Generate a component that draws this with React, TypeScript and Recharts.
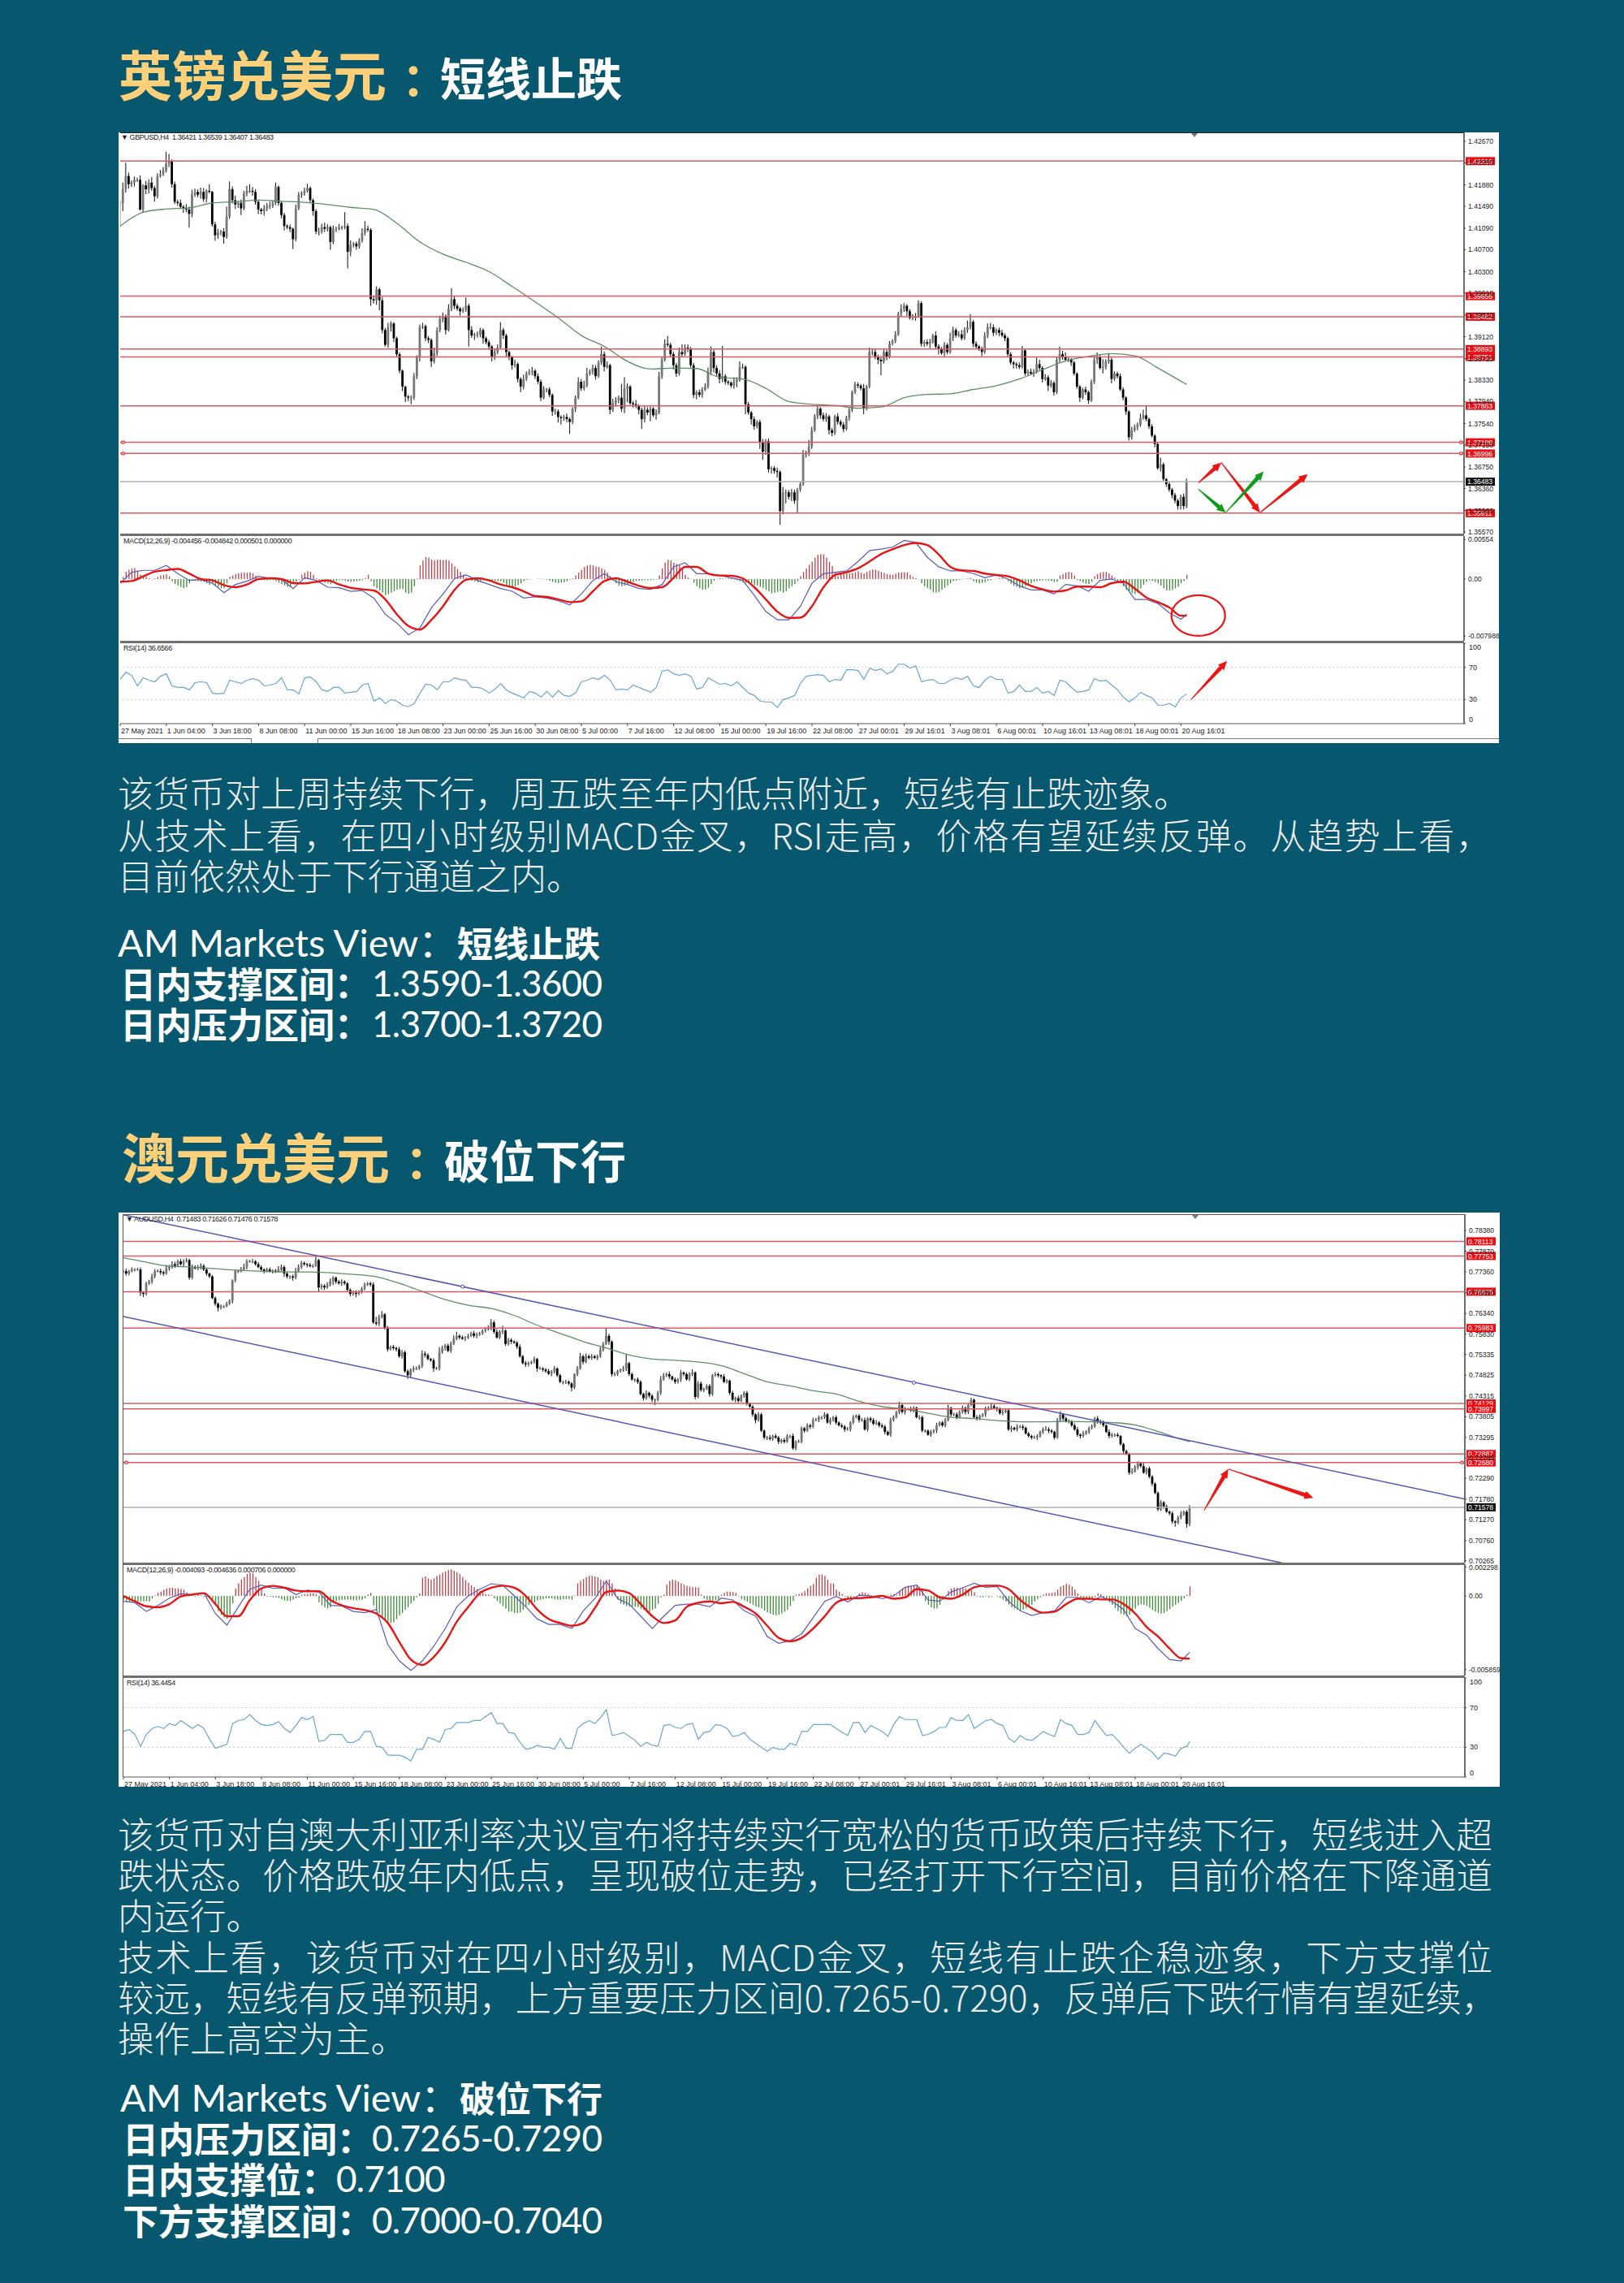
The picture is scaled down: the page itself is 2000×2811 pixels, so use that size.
import { Bar, ComposedChart, Line, ReferenceDot, ReferenceLine, XAxis, YAxis } from 'recharts';

// prices are kept in pips above a base price, the wicks in pips beyond the candle body
const gbpBase = 1.35;
const gbpClose = [
  655,680,704,689,692,697,697,643,687,680, 692,682,667,704,707,714,726,731,689,657,
  655,648,645,643,635,670,675,670,675,662, 677,675,616,596,601,603,593,630,680,660,
  652,655,645,672,677,677,675,657,643,640, 645,650,650,655,684,655,633,613,611,608,
  589,645,670,672,677,682,660,640,603,603, 611,608,611,584,608,608,611,611,613,566,
  579,581,576,586,601,608,606,480,478,498, 478,424,397,429,436,409,380,350,321,303,
  301,301,340,375,429,431,409,406,367,382, 424,444,449,424,463,480,468,463,458,461,
  468,424,414,416,416,424,409,402,394,375, 384,392,424,414,384,375,360,362,335,321,
  335,345,348,350,340,330,301,316,316,306, 276,276,266,264,266,262,257,281,301,330,
  318,323,345,348,355,340,365,380,357,360, 279,291,296,301,281,318,321,291,289,286,
  279,262,279,274,281,269,274,340,370,399, 397,380,360,345,384,380,392,390,360,306,
  311,306,316,321,348,384,355,345,335,340, 330,328,323,330,333,357,357,289,274,262,
  249,257,220,203,222,171,173,168,166,95, 129,129,121,129,114,134,144,198,200,212,
  242,267,281,269,262,267,242,237,267,257, 252,244,264,279,311,325,323,318,281,321,
  384,384,375,370,367,384,375,399,404,416, 453,463,468,458,446,446,449,473,399,402,
  399,402,414,394,390,382,397,384,409,424, 414,416,409,424,429,439,399,394,390,384,
  414,429,429,419,424,419,414,409,380,365, 362,360,357,387,345,348,345,348,362,355,
  335,338,323,328,311,370,380,375,370,370, 365,345,321,301,316,311,296,330,370,375,
  355,357,367,370,335,345,340,316,301,276, 229,242,247,252,264,269,262,249,232,217,
  173,180,153,144,134,124,114,104,121,104, 148,
];
const gbpWickUp = [
  5,12,24,6,4,6,4,8,2,8, 6,10,4,5,8,6,22,13,3,5, 4,6,3,8,5,9,6,5,8,7, 3,12,2,5,7,3,6,18,14,5,
  8,4,6,5,9,12,7,5,4,3, 6,5,7,4,8,3,3,4,3,5, 2,7,5,4,6,8,3,3,4,7, 6,8,5,3,6,4,6,3,25,5,
  8,3,4,5,8,14,6,3,5,5, 3,6,4,8,4,2,3,3,2,2, 3,4,6,3,5,6,3,4,3,10, 5,6,7,3,8,20,6,4,3,4,
  15,4,7,3,5,4,3,3,4,3, 5,6,14,4,3,3,2,8,3,3, 8,4,5,7,3,5,4,6,3,4, 3,5,4,3,4,6,3,3,4,8,
  5,9,10,4,6,5,4,14,5,7, 3,8,6,4,25,20,6,3,4,8, 3,4,7,5,4,3,6,8,5,8, 14,4,5,4,8,14,6,6,3,4,
  3,5,4,6,8,10,4,5,6,55, 4,3,3,8,5,10,6,3,4,3, 5,3,4,6,4,5,3,4,6,3, 10,5,4,6,5,3,4,8,5,12,
  6,4,7,3,5,6,3,4,3,6, 4,5,4,3,3,5,4,3,8,3, 8,5,6,4,6,5,4,5,3,6, 4,8,5,3,4,7,6,5,3,4,
  5,6,3,8,4,3,5,3,10,6, 4,6,8,5,12,14,3,5,3,4, 6,7,8,5,3,4,5,4,3,4, 3,4,5,8,3,4,6,5,12,8,
  3,6,4,5,3,5,14,6,8,4, 3,3,2,3,3,5,3,4,6,8, 5,14,4,12,4,4,3,5,4,3, 2,6,5,4,8,10,18,3,4,3,
  3,12,3,2,4,3,4,3,4,6, 6,
];
const gbpWickDown = [
  45,15,6,8,5,7,4,2,6,9, 8,5,10,4,3,3,4,6,6,4, 5,4,8,5,25,6,4,5,7,5, 6,2,4,10,6,5,12,3,4,6,
  8,6,12,3,5,4,7,5,8,6, 8,5,6,4,4,5,6,8,4,6, 18,4,3,6,4,3,5,8,5,7, 4,6,5,14,4,6,3,5,4,30,
  8,5,6,4,3,5,4,12,6,8, 18,6,3,5,8,7,6,5,8,10, 6,12,4,5,8,3,5,6,10,4, 5,4,6,8,3,5,6,4,8,3,
  4,30,4,8,6,5,10,4,6,8, 5,4,3,6,8,6,8,4,6,10, 5,4,3,6,5,4,6,3,5,4, 8,6,10,12,5,6,22,4,6,3,
  5,4,3,4,5,6,3,4,8,3, 8,4,6,5,6,8,25,3,6,4, 8,18,6,5,16,3,8,3,5,3, 4,5,8,6,4,5,3,6,4,6,
  8,4,5,3,4,6,8,5,8,6, 5,4,4,6,10,3,4,18,4,10, 6,4,12,15,6,6,8,5,10,25, 6,20,5,8,6,22,4,3,6,5,
  4,3,5,6,4,5,8,6,4,5, 4,6,3,5,4,3,5,4,10,3, 3,6,4,8,25,4,6,3,3,4, 3,5,6,8,3,4,5,3,5,6,
  4,8,3,5,10,3,6,4,3,5, 4,3,4,3,5,4,6,5,4,8, 3,5,4,6,4,6,3,5,5,4, 8,6,4,3,4,5,3,6,3,4,
  6,3,10,4,6,3,4,5,3,4, 6,4,4,8,3,5,6,3,4,8, 3,10,5,4,8,3,4,3,5,6, 6,4,3,5,4,3,4,5,3,6,
  3,6,3,5,4,6,5,6,6,6, 4,
];
// moving average, one reading every 8 bars plus the last bar
const gbpMa = [
  613,638,644,646,655,657,660,658,656,652,647,643,618,584,562,547,530,503,475,446,414,394,367,353,
  355,354,338,335,318,294,289,287,282,284,301,307,308,316,323,335,352,368,376,381,377,355,331,325,
];
// MACD in 0.00001 units: histogram per bar, the two lines one reading every 4 bars plus the last bar
const gbpHist = [
  0,30,100,130,150,155,120,60,30,30, 10,-5,10,30,50,60,70,40,-30,-70,
  -90,-110,-125,-110,-60,-20,-25,-30,-35,-40, -60,-80,-70,-90,-110,-130,-130,-60,30,50,
  70,80,85,90,90,95,80,50,10,-10, -15,-20,-15,-15,-30,-50,-70,-90,-110,-110,
  -60,-40,-10,60,90,110,100,60,10,-15, -30,-50,-60,-70,-40,-30,-15,-15,-25,-35,
  -40,-35,-30,-25,-15,15,60,-30,-100,-130, -160,-190,-225,-210,-190,-170,-150,-140,-140,-190,
  -205,-190,-100,10,190,260,310,300,270,260, 270,270,265,270,260,220,180,140,100,60,
  20,-10,-25,-35,-45,-40,-20,-15,-20,-20, -25,-30,-30,-50,-80,-100,-110,-100,-85,-60,
  -30,-10,-5,0,0,5,5,-5,-10,-25, -40,-50,-55,-50,-45,-30,-10,10,50,90,
  130,170,190,200,195,175,170,150,130,90, 40,-20,-60,-90,-100,-90,-70,-50,-40,-25,
  -25,-20,-15,-15,-15,-10,-5,50,150,230, 270,260,230,210,190,150,60,20,5,-50,
  -100,-130,-150,-145,-120,-70,-25,-5,15,10, 5,10,15,-5,-15,-30,-50,-50,-50,-60,
  -80,-90,-110,-130,-150,-170,-200,-190,-180,-170, -190,-170,-130,-100,-70,-30,40,100,150,200,
  245,300,340,350,345,300,240,180,100,40, 70,75,80,80,85,95,110,90,80,100,
  120,135,130,115,100,85,70,65,60,75, 90,95,95,90,60,30,15,-5,-60,-100,
  -125,-150,-185,-190,-180,-150,-120,-90,-60,-30, -20,-10,-5,5,10,15,-30,-50,-60,-55,
  -45,-25,-15,-5,5,15,15,5,-30,-70, -95,-110,-130,-120,-100,-80,-60,-40,-30,-25,
  -20,-15,-20,-30,-40,-40,50,70,90,100, 90,50,-15,-30,-50,-65,-70,-40,40,70,
  90,100,100,80,50,20,-20,-60,-100,-150, -170,-200,-210,-190,-130,-80,-40,-15,-25,-40,
  -60,-90,-130,-160,-160,-155,-130,-110,-60,-30, 60,
];
const gbpMacd = [
  -57,95,122,122,190,76,-19,-8,-57,-190,-76,-30,38,11,-8,-133,19,-19,-114,-122,-171,-160,-266,-494,
  -616,-779,-684,-399,-209,8,57,-19,-76,-133,-171,-266,-247,-266,-304,-361,-209,-19,76,-38,-76,-133,
  -144,-76,171,228,76,76,49,19,-19,-228,-456,-570,-570,-380,-57,76,95,114,247,399,418,448,540,513,
  304,171,114,114,76,19,57,0,-95,-152,-152,-209,-76,-95,-171,-19,0,-57,-285,-285,-342,-475,-562,-494,
];
const gbpSignal = [
  -38,-27,38,103,125,141,76,0,-19,-84,-114,-76,0,11,0,-57,-61,-38,-19,-76,-122,-144,-160,-285,-494,
  -657,-707,-570,-380,-152,-11,11,-19,-76,-114,-171,-239,-251,-285,-323,-312,-171,-27,11,-38,-95,
  -125,-114,19,171,171,76,49,46,8,-114,-285,-456,-543,-540,-380,-114,57,95,152,247,350,418,475,505,
  475,342,171,122,114,76,57,38,-19,-95,-144,-175,-160,-106,-106,-114,-57,-38,-133,-258,-323,-399,-513,-510,
];
// RSI, one reading every 2 bars
const gbpRsi = [
  55,64,60,47,57,54,52,59,62,47, 45,45,42,51,52,51,38,37,38,54, 52,50,54,56,54,47,48,50,57,42,
  42,37,57,58,52,42,40,45,45,38, 39,40,48,50,28,32,25,30,28,23, 21,25,38,49,48,42,52,52,57,55,
  54,45,45,43,38,43,50,42,38,35, 32,40,38,33,40,33,41,35,34,38, 52,54,57,55,60,54,42,43,42,48,
  45,42,39,45,65,67,62,60,62,59, 43,45,57,53,49,50,47,52,45,38, 35,28,27,27,20,30,32,35,50,59,
  60,61,60,52,55,54,
  67,67,66,55,69,66,68,62,65,74, 74,69,72,52,54,55,50,50,54,57, 55,59,47,45,54,59,55,55,38,40,
  48,40,40,45,38,40,35,54,52,45, 39,40,42,56,53,54,48,42,33,27, 32,39,35,32,23,23,25,21,32,37,
];
const gbpLevels = [1.4231, 1.39856, 1.39482, 1.38893, 1.38751, 1.37863, 1.37199, 1.36996, 1.35911];
const gbpPriceTicks = [
  1.4267,1.4228,1.4188,1.4149,1.4109,1.407,1.403,1.3991,1.3951,1.3912,1.3872,1.3833,1.3794,1.3754,1.3715,1.3675,1.3636,1.3596,1.3557,
];
const gbpAnchors = [1.37199, 1.36996];
const gbpRedArrows = [
  [374, 1.3646, 382, 1.3683],
  [382, 1.3683, 395.4, 1.3592],
  [395.4, 1.3592, 412, 1.3662],
];
const gbpGreenArrows = [
  [374, 1.3635, 383.5, 1.3592],
  [383.5, 1.3592, 396.7, 1.3667],
];
const gbpRsiArrow = [371.5, 30, 384, 78];
const gbpCircle = [374, -0.0051];

const audBase = 0.7;
const audClose = [
  738,732,738,742,742,742,685,682,708,712, 725,738,738,735,732,745,748,755,751,762,
  755,762,765,722,748,745,748,751,742,732, 725,672,658,648,652,652,658,665,715,738,
  738,742,748,762,762,762,755,748,742,738, 742,738,739,738,742,748,732,725,725,722,
  738,748,758,755,753,750,751,765,698,702, 698,705,712,722,712,708,712,708,692,682,
  685,682,688,695,705,708,705,612,609,625, 632,599,546,552,549,546,529,539,492,482,
  496,499,499,505,535,532,522,519,499,499, 539,549,555,542,559,572,579,575,572,575,
  579,585,579,582,585,592,595,599,612,589, 575,589,592,559,569,565,562,552,529,512,
  509,512,515,522,499,499,496,492,486,492, 499,482,466,466,466,462,452,485,499,529,
  515,529,525,529,525,529,545,559,579,565, 485,485,492,496,499,512,485,472,472,466,
  436,426,439,432,422,422,439,472,482,485, 479,472,466,472,489,485,472,485,489,429,
  462,446,449,456,436,482,485,482,479,466, 469,439,422,426,419,432,439,412,405,386,
  372,386,346,329,329,326,333,329,319,323, 319,333,333,303,319,319,352,346,359,356,
  372,372,379,379,386,366,372,379,366,359, 356,349,349,366,379,383,372,372,349,376,
  372,363,366,359,356,343,336,372,379,392, 409,392,399,399,396,402,379,379,346,346,
  336,343,346,359,366,359,372,402,386,386, 379,392,402,392,409,422,379,376,382,386,
  399,402,406,402,399,389,392,396,349,353, 349,356,356,353,339,333,329,329,333,343,
  349,349,346,343,329,372,386,376,369,369, 359,349,336,333,339,343,353,356,376,369,
  366,359,343,333,336,336,333,313,296,289, 243,246,256,266,259,243,253,233,216,193,
  153,170,160,147,143,123,120,133,140,147, 117,158,
];
const audWickUp = [
  4,6,3,5,3,4,5,3,4,5, 6,5,4,6,4,8,5,7,6,4, 6,5,5,3,6,4,5,6,4,3, 2,3,4,3,4,2,5,4,3,4,
  3,6,8,5,4,6,3,5,4,3, 4,5,3,4,8,6,4,5,3,4, 8,6,5,4,3,5,4,12,3,5, 4,6,8,4,3,5,6,4,3,4,
  5,6,3,4,5,3,4,6,14,6, 8,3,4,3,5,3,6,5,4,5, 3,6,5,3,8,6,4,3,5,4, 12,6,4,5,6,8,10,4,5,3,
  5,4,6,5,4,3,5,6,8,5, 6,4,12,3,5,4,3,4,6,3, 5,4,3,6,3,5,3,4,6,3, 6,3,4,3,5,4,3,2,6,8,
  4,6,4,5,3,4,6,5,18,5, 3,5,4,3,6,23,3,4,3,5, 4,3,6,3,4,3,5,8,6,4, 7,3,5,4,6,3,4,5,8,3,
  6,5,3,4,5,3,5,4,3,6, 4,3,5,4,6,3,4,5,3,4, 3,5,4,3,4,6,3,5,4,3, 5,4,3,6,3,5,4,3,5,4,
  6,5,4,3,5,4,6,3,4,3, 5,4,6,3,5,3,4,5,6,3, 4,5,6,3,5,4,3,6,4,3, 8,4,5,3,6,4,3,5,4,3,
  3,5,4,6,3,4,5,8,3,4, 5,4,6,3,4,5,3,5,4,3, 6,4,8,5,3,4,6,3,4,5, 3,6,4,5,3,4,3,5,4,3,
  5,8,6,4,3,5,8,3,4,5, 3,5,6,3,6,4,3,5,4,6, 4,5,3,6,4,3,5,2,3,4, 3,8,6,5,4,10,3,5,4,3,
  4,5,3,4,3,5,3,4,8,3, 4,5,
];
const audWickDown = [
  6,5,4,3,5,3,8,8,4,3, 5,4,3,6,5,3,6,4,5,3, 4,6,3,5,4,3,5,6,4,5, 4,3,5,9,4,5,3,3,6,4,
  5,3,4,6,3,5,4,3,5,6, 3,4,6,5,3,4,8,5,6,7, 4,3,5,4,6,3,4,3,10,5, 6,3,4,8,5,3,6,4,5,6,
  4,8,3,5,4,3,5,4,5,6, 3,5,6,3,5,6,4,6,3,8, 5,6,4,3,5,6,3,4,8,3, 5,4,6,3,5,3,4,5,3,6,
  4,3,5,6,3,4,5,3,6,5, 3,4,6,5,4,6,3,5,4,3, 6,5,3,4,8,3,5,4,3,6, 5,4,3,6,5,4,9,4,5,3,
  6,3,4,5,3,6,4,5,3,8, 6,5,4,3,5,6,4,3,6,5, 3,6,4,5,6,13,4,5,3,4, 6,3,5,4,6,5,3,4,5,6,
  3,4,5,3,6,4,3,5,6,3, 4,5,3,6,4,3,5,4,3,6, 8,4,3,5,6,4,5,3,6,4, 5,3,6,4,5,3,4,5,3,6,
  4,3,5,6,4,3,5,4,5,3, 4,6,3,5,4,3,6,4,3,5, 6,4,3,5,4,6,3,5,4,3, 5,4,6,3,4,5,3,6,4,5,
  3,5,4,6,3,4,5,3,6,4, 5,3,4,6,5,3,4,5,4,3, 6,4,5,3,6,4,5,3,4,6, 3,5,4,6,3,4,5,3,6,4,
  5,3,6,4,5,3,4,6,3,5, 4,3,5,6,4,3,5,4,3,6, 5,4,3,6,4,5,3,4,6,3, 5,4,3,5,4,3,5,4,6,3,
  5,4,6,3,5,6,10,4,5,3, 10,6,
];
const audMa = [
  771,760,750,748,744,740,738,736,736,734,730,724,708,688,668,654,646,629,605,585,565,549,532,522,
  519,515,506,486,466,456,444,436,418,405,399,389,379,376,371,368,368,369,368,366,360,344,325,319,
];
const audHist = [
  -30,-43,-43,-43,-43,-43,-43,-43,-40,-43, -20,5,25,35,50,60,65,65,60,60,
  55,50,30,5,5,-5,10,5,-5,-10, -15,-30,-70,-120,-150,-170,-180,-150,-60,60,
  100,130,150,175,185,180,150,120,60,20, -5,-5,-10,-10,-15,-25,-35,-40,-40,-30,
  -20,-15,10,15,15,20,20,15,-50,-75, -90,-100,-90,-60,-40,-35,-30,-30,-30,-30,
  -35,-35,-30,-30,-20,10,25,-75,-110,-135, -165,-190,-205,-215,-210,-185,-155,-135,-110,-90,
  -60,-40,-10,20,145,155,140,130,140,160, 170,185,195,205,210,200,190,175,150,125,
  105,85,70,55,40,25,15,10,5,-20, -40,-60,-80,-100,-125,-125,-135,-135,-130,-110,
  -85,-70,-60,-50,-35,-30,-25,-20,-20,-20, -25,-30,-30,-25,-25,-25,-30,5,100,120,
  135,150,160,160,155,150,130,120,125,130, 100,60,-30,-60,-70,-80,-85,-85,-85,-90,
  -100,-110,-130,-130,-110,-100,-60,-10,10,90, 120,130,125,115,100,90,80,75,70,70,
  65,10,-20,-30,-35,-35,-35,-30,10,25, 35,35,30,25,-5,-25,-35,-45,-60,-70,
  -85,-90,-100,-115,-130,-140,-150,-155,-150,-140, -125,-110,-80,-40,10,15,25,40,60,80,
  95,145,170,170,160,130,100,100,50,35, 15,-5,-15,-15,-10,-5,20,30,25,15,
  5,-10,-15,-10,-5,-10,5,10,15,5, 40,60,70,80,80,80,80,70,40,-40,
  -70,-90,-100,-100,-70,-30,-5,40,60,65, 65,60,65,60,55,45,30,-5,-10,-10,
  -5,-10,-5,0,-5,-15,-30,-45,-70,-90, -100,-110,-115,-110,-100,-90,-70,-45,-25,-10,
  10,20,20,25,30,50,75,85,97,90, 75,50,20,-15,-20,-20,-20,-20,-10,22,
  15,-15,-30,-50,-70,-95,-120,-140,-150,-160, -150,-130,-100,-75,-65,-70,-80,-95,-110,-125,
  -135,-140,-135,-120,-105,-85,-70,-55,-40,-20, 10,75,
];
const audMacd = [
  -43,-54,-123,-75,-17,17,11,22,-140,-232,-86,54,86,60,65,11,47,32,-75,-80,-123,-133,-108,-387,-516,
  -591,-516,-398,-258,-86,0,54,97,86,0,-86,-183,-226,-226,-258,-118,-22,118,-22,-65,-161,-258,-161,
  -75,-65,-65,-86,-17,-32,-118,-161,-323,-376,-355,-301,-172,-43,-4,-47,6,0,-22,0,69,86,-32,-43,32,
  65,101,69,75,-43,-118,-155,-133,-118,-11,-11,-54,-4,-43,-108,-258,-312,-419,-505,-516,-447,
];
const audSignal = [
  0,-43,-82,-90,-65,-4,11,22,-65,-161,-161,-32,60,80,65,43,37,37,-32,-75,-97,-112,-140,-215,-366,
  -505,-548,-484,-366,-204,-86,22,65,82,65,0,-108,-183,-215,-237,-215,-97,32,43,22,-65,-161,-215,
  -194,-86,-54,-43,-58,-47,-86,-140,-237,-333,-359,-333,-258,-161,-54,-22,-17,-11,0,-22,-11,54,43,
  -11,-22,11,69,82,82,54,-32,-97,-133,-125,-65,-22,-22,-28,-28,-65,-140,-247,-323,-419,-495,-499,
];
const audRsi = [
  46,48,43,31,43,49,51,49,54,52, 57,53,49,53,49,38,29,31,33,54, 57,58,63,57,53,52,53,56,49,45,
  52,60,58,61,36,37,43,43,43,35, 35,38,46,46,31,30,22,22,22,20, 16,28,28,40,38,35,48,49,55,55,
  55,57,57,61,65,54,54,45,44,35, 28,29,32,30,30,28,39,29,29,49, 54,57,54,60,68,42,43,45,41,37,
  31,35,32,31,52,53,50,49,53,54, 38,45,46,53,52,49,41,42,45,38, 34,30,26,30,28,28,34,32,46,46,
  53,53,53,53,49,45,42,55,55,45, 52,49,46,41,53,61,58,58,58,42, 43,46,50,50,60,57,57,63,49,53,
  57,58,54,52,39,35,42,38,37,41, 46,43,41,58,54,52,43,43,45,57, 49,42,43,37,30,24,29,33,29,25,
  18,24,23,21,29,31,36,
];
const audLevels = [0.78113, 0.77753, 0.76875, 0.75983, 0.74129, 0.73997, 0.72887, 0.7268];
const audPriceTicks = [
  0.7838,0.7787,0.7736,0.7685,0.7634,0.7583,0.75335,0.74825,0.74315,0.73805,0.73295,0.72785,0.7229,0.7178,0.7127,0.7076,0.70265,
];
const audAnchors = [0.7268];
const audChannels = [
  [0, 0.78765, 466.7, 0.71782],
  [0, 0.76265, 403, 0.70214],
];
const audChannelDots = [
  [118, 0.77],
  [275, 0.7464],
];
const audRedArrows = [
  [376, 0.715, 384.4, 0.7252],
  [384.4, 0.7252, 414, 0.7181],
];

const timeLabels = [
  '27 May 2021','1 Jun 04:00','3 Jun 18:00','8 Jun 08:00','11 Jun 00:00','15 Jun 16:00','18 Jun 08:00','23 Jun 00:00',
  '25 Jun 16:00','30 Jun 08:00','5 Jul 00:00','7 Jul 16:00','12 Jul 08:00','15 Jul 00:00','19 Jul 16:00','22 Jul 08:00',
  '27 Jul 00:01','29 Jul 16:01','3 Aug 08:01','6 Aug 00:01','10 Aug 16:01','13 Aug 08:01','18 Aug 00:01','20 Aug 16:01',
];
const timeTicks = timeLabels.map((_, i) => i * 16);
const rsiTicks = [100, 70, 30, 0];

const TEAL = '#07586F';
const GOLD = '#FFD07A';
const BODY = '#ececec';
const SMALL = '"Liberation Sans", Arial, sans-serif';
const CJK = '"Noto Sans CJK SC", sans-serif';
const LATIN = 'Lato, "Noto Sans CJK SC", sans-serif';

const sampled = (values: number[], step: number, i: number, last: number) => {
  if (i === last) return values[values.length - 1];
  return i % step === 0 ? values[i / step] ?? null : null;
};

const priceRows = (close: number[], up: number[], down: number[], ma: number[], base: number) =>
  close.map((c, i) => {
    const o = i ? close[i - 1] : c;
    const toPrice = (p: number) => base + p / 10000;
    const avg = sampled(ma, 8, i, close.length - 1);
    return {
      bar: i,
      open: toPrice(o),
      close: toPrice(c),
      range: [toPrice(Math.min(o, c) - down[i]), toPrice(Math.max(o, c) + up[i])],
      ma: avg === null ? null : toPrice(avg),
    };
  });

const macdRows = (hist: number[], macd: number[], signal: number[]) =>
  hist.map((h, i) => {
    const m = sampled(macd, 4, i, hist.length - 1);
    const s = sampled(signal, 4, i, hist.length - 1);
    return { bar: i, hist: h / 100000, macd: m === null ? null : m / 100000, signal: s === null ? null : s / 100000 };
  });

const rsiRows = (rsi: number[], bars: number) =>
  Array.from({ length: bars }, (_, i) => ({ bar: i, rsi: sampled(rsi, 2, i, bars - 1) }));

const Candle = (p: any) => {
  const { x, y, width, height, payload } = p;
  const top = Math.min(y, y + height);
  const h = Math.abs(height);
  const [lo, hi] = payload.range;
  const k = h / (hi - lo);
  const cx = x + width / 2;
  const bodyTop = top + (hi - Math.max(payload.open, payload.close)) * k;
  const bodyH = Math.max(Math.abs(payload.open - payload.close) * k, 1);
  const rising = payload.close >= payload.open;
  return (
    <g>
      <line x1={cx} x2={cx} y1={top} y2={top + h} stroke="#222" strokeWidth={1.1} />
      <rect x={cx - 1.4} y={bodyTop} width={2.8} height={bodyH} fill={rising ? '#777' : '#000'} />
    </g>
  );
};

const HistBar = (p: any) => {
  const top = Math.min(p.y, p.y + p.height);
  return (
    <rect
      x={p.x + p.width / 2 - 0.65}
      y={top}
      width={1.3}
      height={Math.abs(p.height)}
      fill={p.payload.hist >= 0 ? '#b8434b' : '#3f8a36'}
    />
  );
};

const priceTag = (price: number, tagFill: string, lineStroke: string) => (p: any) => {
  const right = Math.max(p.x1, p.x2);
  return (
    <g>
      <line x1={p.x1} x2={p.x2} y1={p.y1} y2={p.y2} stroke={lineStroke} strokeWidth={1.5} />
      <rect x={right + 2} y={p.y1 - 5} width={36} height={10} fill={tagFill} />
      <text x={right + 4} y={p.y1 + 3.2} fontSize={8.6} fontFamily={SMALL} fill="#fff">
        {price.toFixed(5)}
      </text>
    </g>
  );
};

const arrowShape = (color: string) => (p: any) => {
  const dx = p.x2 - p.x1;
  const dy = p.y2 - p.y1;
  const len = Math.hypot(dx, dy) || 1;
  const ux = dx / len;
  const uy = dy / len;
  const nx = -uy;
  const ny = ux;
  const neckX = p.x2 - ux * 11;
  const neckY = p.y2 - uy * 11;
  const pts = [
    [p.x1 + nx * 0.5, p.y1 + ny * 0.5],
    [neckX + nx * 2.5, neckY + ny * 2.5],
    [neckX + nx * 5, neckY + ny * 5],
    [p.x2, p.y2],
    [neckX - nx * 5, neckY - ny * 5],
    [neckX - nx * 2.5, neckY - ny * 2.5],
    [p.x1 - nx * 0.5, p.y1 - ny * 0.5],
  ];
  return <polygon points={pts.map((q) => q.join(',')).join(' ')} fill={color} />;
};

const circleShape = (p: any) => (
  <ellipse cx={p.cx} cy={p.cy} rx={33} ry={25} fill="none" stroke="#e81616" strokeWidth={2.2} />
);

const anchorShape = (p: any) => (
  <rect x={p.cx - 1.5} y={p.cy - 1.5} width={3} height={3} fill="#fff" stroke="#d02020" strokeWidth={1} />
);

const TimeTick = (p: any) => (
  <g>
    <line x1={p.x} x2={p.x} y1={p.y} y2={p.y + 3} stroke="#444" />
    <text x={p.x + 1} y={p.y + 12} fontSize={9} fontFamily={SMALL} fill="#222">
      {timeLabels[p.index]}
    </text>
  </g>
);

const RsiTick = (p: any) => {
  const nudge = p.payload.value === 100 ? 5 : p.payload.value === 0 ? -5 : 0;
  return (
    <text x={p.x + 1} y={p.y + 3 + nudge} fontSize={9} fontFamily={SMALL} fill="#222">
      {p.payload.value}
    </text>
  );
};

const Text = ({ x, y, size, color = '#fff', weight = 400, font = CJK, width, spacing, children }: any) => (
  <div
    style={{
      position: 'absolute',
      left: x,
      top: y - size,
      height: size * 2,
      lineHeight: `${size * 2}px`,
      fontSize: size,
      color,
      fontWeight: weight,
      fontFamily: font,
      whiteSpace: 'nowrap',
      letterSpacing: spacing,
      width,
      textAlign: width ? 'justify' : undefined,
      textAlignLast: width ? 'justify' : undefined,
    }}
  >
    {children}
  </div>
);

const PaneLabel = ({ x, y, children }: any) => (
  <div
    style={{
      position: 'absolute', left: x, top: y, fontSize: 9, letterSpacing: -0.42, lineHeight: '12px', color: '#222',
      fontFamily: SMALL, whiteSpace: 'pre', zIndex: 2,
    }}
  >
    {children}
  </div>
);

const Divider = ({ left, top, width, height = 3, color = '#707070' }: any) => (
  <div style={{ position: 'absolute', left, top, width, height, background: color }} />
);

const Pane = ({ left, top, width, height, data, xMax, yDomain, yTicks, tickFormat, tick, xAxis, children }: any) => (
  <div style={{ position: 'absolute', left, top }}>
    <ComposedChart width={width} height={height} data={data} margin={{ top: 0, right: 0, bottom: 0, left: 0 }}>
      <XAxis
        dataKey="bar"
        type="number"
        domain={[0, xMax]}
        allowDataOverflow
        ticks={xAxis ? timeTicks : []}
        interval={0}
        hide={!xAxis}
        height={xAxis ? 18 : 0}
        axisLine={{ stroke: '#555', strokeWidth: 1 }}
        tickLine={false}
        tickSize={0}
        tickMargin={0}
        tick={xAxis ? <TimeTick /> : false}
      />
      <YAxis
        orientation="right"
        width={43}
        domain={yDomain}
        allowDataOverflow
        ticks={yTicks}
        interval={0}
        axisLine={{ stroke: '#6e6e6e', strokeWidth: 2 }}
        tickLine={{ stroke: '#444' }}
        tickSize={2}
        tickMargin={3}
        tick={tick ?? { fontSize: 8.6, fontFamily: SMALL, fill: '#222' }}
        tickFormatter={tickFormat}
      />
      {children}
    </ComposedChart>
  </div>
);

const PricePane = (p: any) => (
  <Pane {...p} tickFormat={(v: number) => v.toFixed(5)}>
    <Bar dataKey="range" shape={<Candle />} barSize={3} isAnimationActive={false} />
    <Line dataKey="ma" type="monotone" stroke="#5f8f68" strokeWidth={1.3} dot={false} connectNulls isAnimationActive={false} />
    {p.levels.map((v: number) => (
      <ReferenceLine key={v} y={v} ifOverflow="visible" shape={priceTag(v, '#ee0c12', '#df5a60')} />
    ))}
    <ReferenceLine y={p.current} ifOverflow="visible" shape={priceTag(p.current, '#111', '#b0b0b0')} />
    {(p.channels ?? []).map((c: number[]) => (
      <ReferenceLine
        key={c[1]}
        segment={[{ x: c[0], y: c[1] }, { x: c[2], y: c[3] }]}
        ifOverflow="visible"
        stroke="#5656b4"
        strokeWidth={1.5}
      />
    ))}
    {(p.channelDots ?? []).map((d: number[]) => (
      <ReferenceDot key={d[0]} x={d[0]} y={d[1]} r={2} fill="#fff" stroke="#4444b0" ifOverflow="visible" />
    ))}
    {p.anchors.map((v: number) => (
      <ReferenceDot key={v} x={1} y={v} ifOverflow="visible" shape={anchorShape} />
    ))}
    {p.anchors.map((v: number) => (
      <ReferenceDot key={`end-${v}`} x={p.xMax - 1} y={v} ifOverflow="visible" shape={anchorShape} />
    ))}
    {p.redArrows.map((a: number[]) => (
      <ReferenceLine
        key={`r${a[0]}`}
        segment={[{ x: a[0], y: a[1] }, { x: a[2], y: a[3] }]}
        ifOverflow="visible"
        shape={arrowShape('#ee1515')}
      />
    ))}
    {(p.greenArrows ?? []).map((a: number[]) => (
      <ReferenceLine
        key={`g${a[0]}`}
        segment={[{ x: a[0], y: a[1] }, { x: a[2], y: a[3] }]}
        ifOverflow="visible"
        shape={arrowShape('#129a1c')}
      />
    ))}
  </Pane>
);

const MacdPane = (p: any) => (
  <Pane {...p} tickFormat={(v: number) => (v === 0 ? '0.00' : String(v))}>
    <Bar dataKey="hist" shape={<HistBar />} barSize={2} isAnimationActive={false} />
    <Line dataKey="macd" stroke="#5b5bb5" strokeWidth={1.2} dot={false} connectNulls isAnimationActive={false} />
    <Line dataKey="signal" type="monotone" stroke="#e81414" strokeWidth={2.4} dot={false} connectNulls isAnimationActive={false} />
    {p.circle && <ReferenceDot x={p.circle[0]} y={p.circle[1]} ifOverflow="visible" shape={circleShape} />}
  </Pane>
);

const RsiPane = (p: any) => (
  <Pane {...p} xAxis yDomain={[0, 100]} yTicks={rsiTicks} tick={<RsiTick />}>
    <ReferenceLine y={70} stroke="#c9c9c9" strokeDasharray="2 3" />
    <ReferenceLine y={30} stroke="#c9c9c9" strokeDasharray="2 3" />
    <Line dataKey="rsi" stroke="#6aa6cc" strokeWidth={1.2} dot={false} connectNulls isAnimationActive={false} />
    {p.arrow && (
      <ReferenceLine
        segment={[{ x: p.arrow[0], y: p.arrow[1] }, { x: p.arrow[2], y: p.arrow[3] }]}
        ifOverflow="visible"
        shape={arrowShape('#ee1515')}
      />
    )}
  </Pane>
);

const Triangle = ({ x, y }: any) => (
  <div
    style={{
      position: 'absolute', left: x - 4, top: y, width: 0, height: 0, zIndex: 2,
      borderLeft: '4px solid transparent', borderRight: '4px solid transparent', borderTop: '5px solid #777',
    }}
  />
);

const Panel = ({ left, top, width, height }: any) => (
  <div style={{ position: 'absolute', left, top, width, height, background: '#fff' }} />
);

export default function App() {
  const gbpPrice = priceRows(gbpClose, gbpWickUp, gbpWickDown, gbpMa, gbpBase);
  const audPrice = priceRows(audClose, audWickUp, audWickDown, audMa, audBase);
  const gbpX = 466.2;
  const audX = 466.7;
  return (
    <div style={{ position: 'absolute', left: 0, top: 0, width: 2000, height: 2811, background: TEAL, overflow: 'hidden' }}>
      <style>{'.recharts-surface{overflow:visible}'}</style>
      <Text x={146} y={89} size={66} color={GOLD} weight={700}>英镑兑美元</Text>
      <Text x={495} y={94} size={56} color={GOLD} weight={700}>：</Text>
      <Text x={542} y={94} size={56} weight={700}>短线止跌</Text>

      <Panel left={146} top={163} width={1700} height={752} />
      <Divider left={148} top={163} width={1655} height={1} color="#222" />
      <PaneLabel x={149} y={163}>{'▼ GBPUSD,H4  1.36421 1.36539 1.36407 1.36483'}</PaneLabel>
      <Triangle x={1471} y={164} />
      <PricePane
        left={148} top={163} width={1698} height={494} data={gbpPrice} xMax={gbpX}
        yDomain={[1.3554, 1.42832]} yTicks={gbpPriceTicks} levels={gbpLevels} current={1.36483}
        anchors={gbpAnchors} redArrows={gbpRedArrows} greenArrows={gbpGreenArrows}
      />
      <Divider left={148} top={657} width={1655} />
      <PaneLabel x={152} y={660}>MACD(12,26,9) -0.004456 -0.004842 0.000501 0.000000</PaneLabel>
      <MacdPane
        left={148} top={660} width={1698} height={129} data={macdRows(gbpHist, gbpMacd, gbpSignal)} xMax={gbpX}
        yDomain={[-0.00864, 0.00602]} yTicks={[0.00554, 0, -0.007988]} circle={gbpCircle}
      />
      <Divider left={148} top={789} width={1655} />
      <PaneLabel x={152} y={792}>RSI(14) 36.6566</PaneLabel>
      <RsiPane
        left={148} top={792} width={1698} height={117} data={rsiRows(gbpRsi, gbpClose.length)} xMax={gbpX}
        arrow={gbpRsiArrow}
      />
      <Divider left={146} top={909} width={163} height={1} color="#777" />
      <Divider left={391} top={909} width={1455} height={1} color="#777" />
      <Divider left={309} top={909} width={1} height={6} color="#777" />
      <Divider left={391} top={909} width={1} height={6} color="#777" />

      <Text x={145} y={975} size={44} weight={300} color={BODY}>该货币对上周持续下行，周五跌至年内低点附近，短线有止跌迹象。</Text>
      <Text x={145} y={1027} size={44} weight={300} color={BODY} width={1692}>从技术上看，在四小时级别MACD金叉，RSI走高，价格有望延续反弹。从趋势上看，</Text>
      <Text x={145} y={1077} size={44} weight={300} color={BODY}>目前依然处于下行通道之内。</Text>

      <Text x={145} y={1160} size={47} font={LATIN}>AM Markets View：</Text>
      <Text x={563} y={1160} size={44} weight={700}>短线止跌</Text>
      <Text x={148} y={1210} size={44} weight={700}>日内支撑区间：</Text>
      <Text x={458} y={1210} size={44} font={LATIN} spacing={-0.7}>1.3590-1.3600</Text>
      <Text x={148} y={1260} size={44} weight={700}>日内压力区间：</Text>
      <Text x={458} y={1260} size={44} font={LATIN} spacing={-0.7}>1.3700-1.3720</Text>

      <Text x={150} y={1422} size={66} color={GOLD} weight={700}>澳元兑美元</Text>
      <Text x={499} y={1427} size={56} color={GOLD} weight={700}>：</Text>
      <Text x={547} y={1427} size={56} weight={700}>破位下行</Text>

      <Panel left={146} top={1493} width={1701} height={707} />
      <Divider left={151} top={1495} width={1653} height={1} color="#555" />
      <Divider left={151} top={1495} width={1} height={693} color="#555" />
      <PaneLabel x={155} y={1495}>{'▼ AUDUSD,H4  0.71483 0.71626 0.71476 0.71578'}</PaneLabel>
      <Triangle x={1472} y={1496} />
      <PricePane
        left={152} top={1495} width={1695} height={429} data={audPrice} xMax={audX}
        yDomain={[0.70219, 0.78779]} yTicks={audPriceTicks} levels={audLevels} current={0.71578}
        anchors={audAnchors} redArrows={audRedArrows} channels={audChannels} channelDots={audChannelDots}
      />
      <Divider left={152} top={1924} width={1652} />
      <PaneLabel x={156} y={1927}>MACD(12,26,9) -0.004093 -0.004636 0.000706 0.000000</PaneLabel>
      <MacdPane
        left={152} top={1926} width={1695} height={137} data={macdRows(audHist, audMacd, audSignal)} xMax={audX}
        yDomain={[-0.00632, 0.00252]} yTicks={[0.002298, 0, -0.005859]}
      />
      <Divider left={152} top={2063} width={1652} />
      <PaneLabel x={156} y={2066}>RSI(14) 36.4454</PaneLabel>
      <RsiPane
        left={152} top={2066} width={1695} height={140} data={rsiRows(audRsi, audClose.length)} xMax={audX}
      />

      <Text x={145} y={2256} size={44.5} weight={300} color={BODY} width={1693}>该货币对自澳大利亚利率决议宣布将持续实行宽松的货币政策后持续下行，短线进入超</Text>
      <Text x={145} y={2306} size={44.5} weight={300} color={BODY} width={1693}>跌状态。价格跌破年内低点，呈现破位走势，已经打开下行空间，目前价格在下降通道</Text>
      <Text x={145} y={2356} size={44.5} weight={300} color={BODY}>内运行。</Text>
      <Text x={145} y={2407} size={44.5} weight={300} color={BODY} width={1693}>技术上看，该货币对在四小时级别，MACD金叉，短线有止跌企稳迹象，下方支撑位</Text>
      <Text x={145} y={2457} size={44.5} weight={300} color={BODY} width={1693}>较远，短线有反弹预期，上方重要压力区间0.7265-0.7290，反弹后下跌行情有望延续，</Text>
      <Text x={145} y={2507} size={44.5} weight={300} color={BODY}>操作上高空为主。</Text>

      <Text x={148} y={2582} size={47} font={LATIN}>AM Markets View：</Text>
      <Text x={566} y={2582} size={44} weight={700}>破位下行</Text>
      <Text x={151} y={2632} size={44} weight={700}>日内压力区间：</Text>
      <Text x={458} y={2632} size={44} font={LATIN} spacing={-0.7}>0.7265-0.7290</Text>
      <Text x={151} y={2682} size={44} weight={700}>日内支撑位：</Text>
      <Text x={414} y={2682} size={44} font={LATIN} spacing={-0.7}>0.7100</Text>
      <Text x={151} y={2733} size={44} weight={700}>下方支撑区间：</Text>
      <Text x={458} y={2733} size={44} font={LATIN} spacing={-0.7}>0.7000-0.7040</Text>
    </div>
  );
}
